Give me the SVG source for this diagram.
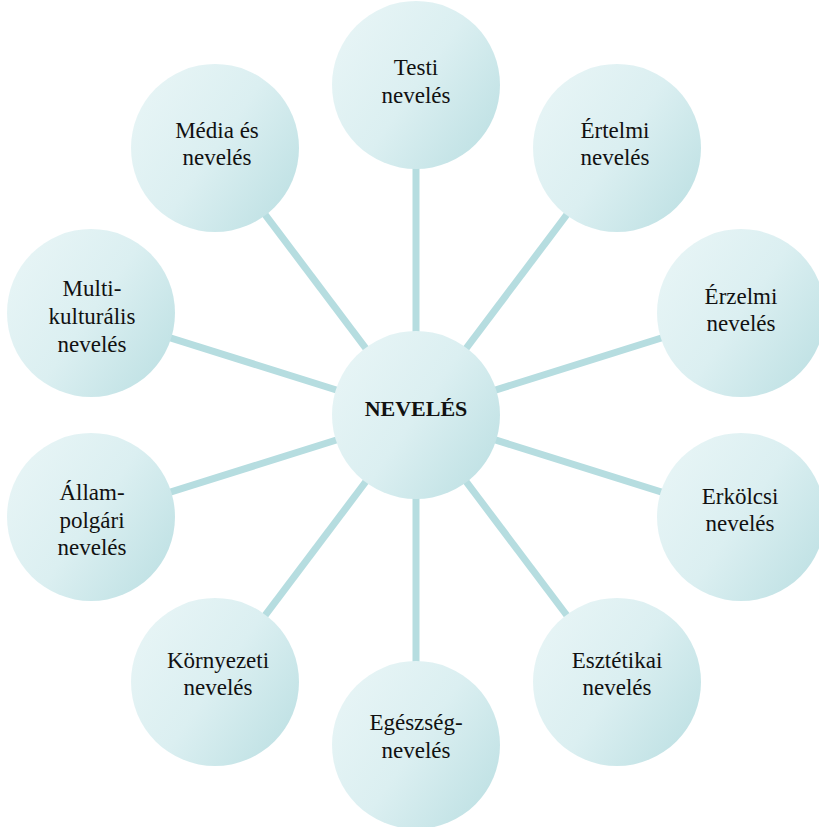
<svg xmlns="http://www.w3.org/2000/svg" width="819" height="827" viewBox="0 0 819 827">
  <defs>
    <!-- soft teal shading shared by every bubble -->
    <linearGradient id="bubble" x1="0" y1="0.15" x2="1" y2="0.85">
      <stop offset="0" stop-color="#e8f5f6"/>
      <stop offset="0.5" stop-color="#dbeff1"/>
      <stop offset="1" stop-color="#bde0e3"/>
    </linearGradient>
  </defs>
  <rect width="819" height="827" fill="#ffffff"/>

  <!-- spokes from the hub to every satellite -->
  <g id="links" stroke="#b6dde0" stroke-width="7">
    <line x1="416" y1="415" x2="416" y2="85"/>
    <line x1="416" y1="415" x2="617" y2="148"/>
    <line x1="416" y1="415" x2="741" y2="313"/>
    <line x1="416" y1="415" x2="741" y2="517"/>
    <line x1="416" y1="415" x2="617" y2="682"/>
    <line x1="416" y1="415" x2="416" y2="745"/>
    <line x1="416" y1="415" x2="215" y2="682"/>
    <line x1="416" y1="415" x2="91" y2="517"/>
    <line x1="416" y1="415" x2="91" y2="313"/>
    <line x1="416" y1="415" x2="215" y2="148"/>
  </g>

  <g font-family="'Liberation Serif', serif" font-size="23" fill="#111" text-anchor="middle">
    <g id="hub">
      <circle cx="416" cy="415" r="84" fill="url(#bubble)"/>
      <text x="416" y="416" font-weight="bold" font-size="22">NEVELÉS</text>
    </g>

    <g id="testi">
      <circle cx="416" cy="85" r="84" fill="url(#bubble)"/>
      <text x="416" y="75">Testi</text>
      <text x="416" y="103">nevelés</text>
    </g>

    <g id="ertelmi">
      <circle cx="617" cy="148" r="84" fill="url(#bubble)"/>
      <text x="615" y="138">Értelmi</text>
      <text x="615" y="165">nevelés</text>
    </g>

    <g id="erzelmi">
      <circle cx="741" cy="313" r="84" fill="url(#bubble)"/>
      <text x="741" y="304">Érzelmi</text>
      <text x="741" y="331">nevelés</text>
    </g>

    <g id="erkolcsi">
      <circle cx="741" cy="517" r="84" fill="url(#bubble)"/>
      <text x="740" y="504">Erkölcsi</text>
      <text x="740" y="531">nevelés</text>
    </g>

    <g id="esztetikai">
      <circle cx="617" cy="682" r="84" fill="url(#bubble)"/>
      <text x="617" y="668">Esztétikai</text>
      <text x="617" y="695">nevelés</text>
    </g>

    <g id="egeszseg">
      <circle cx="416" cy="745" r="84" fill="url(#bubble)"/>
      <text x="416" y="730">Egészség-</text>
      <text x="416" y="758">nevelés</text>
    </g>

    <g id="kornyezeti">
      <circle cx="215" cy="682" r="84" fill="url(#bubble)"/>
      <text x="218" y="668">Környezeti</text>
      <text x="218" y="695">nevelés</text>
    </g>

    <g id="allampolgari">
      <circle cx="91" cy="517" r="84" fill="url(#bubble)"/>
      <text x="92" y="500">Állam-</text>
      <text x="92" y="528">polgári</text>
      <text x="92" y="555">nevelés</text>
    </g>

    <g id="multikulturalis">
      <circle cx="91" cy="313" r="84" fill="url(#bubble)"/>
      <text x="92" y="296">Multi-</text>
      <text x="92" y="324">kulturális</text>
      <text x="92" y="352">nevelés</text>
    </g>

    <g id="media">
      <circle cx="215" cy="148" r="84" fill="url(#bubble)"/>
      <text x="217" y="138">Média és</text>
      <text x="217" y="165">nevelés</text>
    </g>
  </g>
</svg>
